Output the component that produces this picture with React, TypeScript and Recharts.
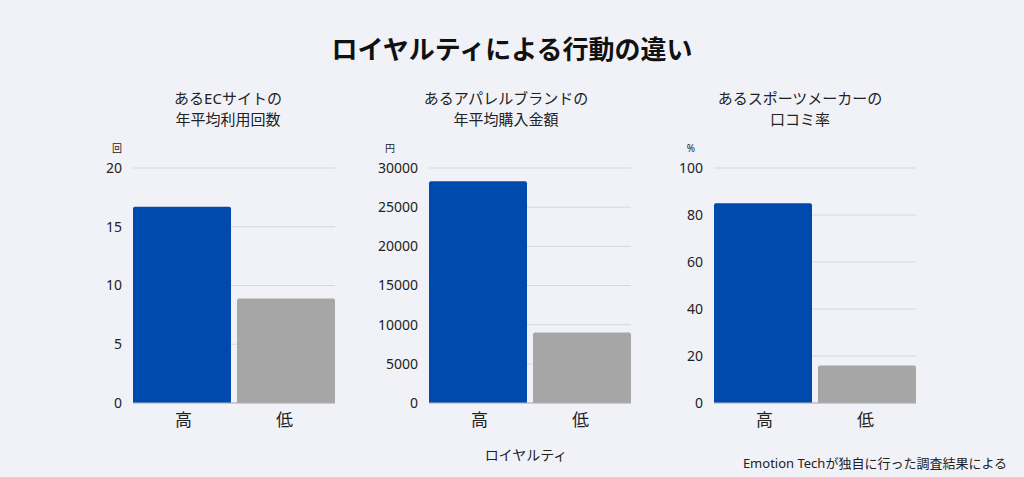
import { BarChart, Bar, XAxis, YAxis, CartesianGrid, Cell, Rectangle } from 'recharts';

const categories = ['高', '低'];
const ecVisits = [16.7, 8.9];
const apparelSpend = [28300, 9000];
const referralRate = [85, 16];

const ecTicks = [0, 5, 10, 15, 20];
const apparelTicks = [0, 5000, 10000, 15000, 20000, 25000, 30000];
const referralTicks = [0, 20, 40, 60, 80, 100];

const colors = ['#004aad', '#a6a6a6'];
const font = "'Noto Sans', 'Noto Sans CJK JP', sans-serif";

// bars sit flush with the plot edges, 6px apart in the middle
const BarShape = (props: any) => {
  const { x, y, width, height, index } = props;
  return (
    <Rectangle
      x={index === 0 ? x : x + 3}
      y={y}
      width={width - 3}
      height={height}
      fill={colors[index]}
      radius={[2, 2, 0, 0]}
    />
  );
};

type PanelProps = {
  plotLeft: number;
  values: number[];
  ticks: number[];
  unit: string;
  unitX: number;
  title: string[];
  titleX: number;
};

function Panel({ plotLeft, values, ticks, unit, unitX, title, titleX }: PanelProps) {
  const data = categories.map((c, i) => ({ name: c, value: values[i] }));
  return (
    <>
      <div
        style={{
          position: 'absolute', left: titleX - 150, top: 88, width: 300,
          textAlign: 'center', fontSize: 15, lineHeight: '21px', color: '#222',
        }}
      >
        {title[0]}<br />{title[1]}
      </div>
      <div
        style={{
          position: 'absolute', left: unitX - 10, top: 141, width: 20,
          textAlign: 'center', fontSize: 10, lineHeight: '14px', color: '#222',
        }}
      >
        {unit}
      </div>
      <div style={{ position: 'absolute', left: plotLeft - 60, top: 156 }}>
        <BarChart
          width={262}
          height={277}
          data={data}
          margin={{ top: 12, right: 0, left: 0, bottom: 0 }}
          barCategoryGap={0}
        >
          <CartesianGrid vertical={false} stroke="#d6d7de" />
          <XAxis
            dataKey="name"
            height={30}
            tickLine={false}
            tickMargin={5}
            axisLine={{ stroke: '#b4b4b8' }}
            tick={{ fill: '#222', fontSize: 17, fontFamily: font }}
          />
          <YAxis
            width={60}
            domain={[0, ticks[ticks.length - 1]]}
            ticks={ticks}
            interval={0}
            axisLine={false}
            tickLine={false}
            tickMargin={5}
            tick={{ fill: '#222', fontSize: 14, fontFamily: font }}
          />
          <Bar dataKey="value" isAnimationActive={false} shape={BarShape}>
            {data.map((d, i) => (
              <Cell key={d.name} fill={colors[i]} />
            ))}
          </Bar>
        </BarChart>
      </div>
    </>
  );
}

export default function App() {
  return (
    <div
      style={{
        position: 'absolute', left: 0, top: 0, width: 1024, height: 477,
        background: '#f1f2f8', fontFamily: font, color: '#222', overflow: 'hidden',
      }}
    >
      <div
        style={{
          position: 'absolute', left: 0, top: 32, width: 1024, textAlign: 'center',
          fontSize: 26, fontWeight: 700, lineHeight: '34px', color: '#111',
        }}
      >
        ロイヤルティによる行動の違い
      </div>
      <Panel
        plotLeft={133}
        values={ecVisits}
        ticks={ecTicks}
        unit="回"
        unitX={117}
        title={['あるECサイトの', '年平均利用回数']}
        titleX={228}
      />
      <Panel
        plotLeft={429}
        values={apparelSpend}
        ticks={apparelTicks}
        unit="円"
        unitX={390}
        title={['あるアパレルブランドの', '年平均購入金額']}
        titleX={506}
      />
      <Panel
        plotLeft={714}
        values={referralRate}
        ticks={referralTicks}
        unit="%"
        unitX={691}
        title={['あるスポーツメーカーの', '口コミ率']}
        titleX={800}
      />
      <div
        style={{
          position: 'absolute', left: 426, top: 445, width: 200, textAlign: 'center',
          fontSize: 14, lineHeight: '20px',
        }}
      >
        ロイヤルティ
      </div>
      <div
        style={{
          position: 'absolute', right: 17, top: 454, fontSize: 13, lineHeight: '18px',
          whiteSpace: 'nowrap',
        }}
      >
        Emotion Techが独自に行った調査結果による
      </div>
    </div>
  );
}
